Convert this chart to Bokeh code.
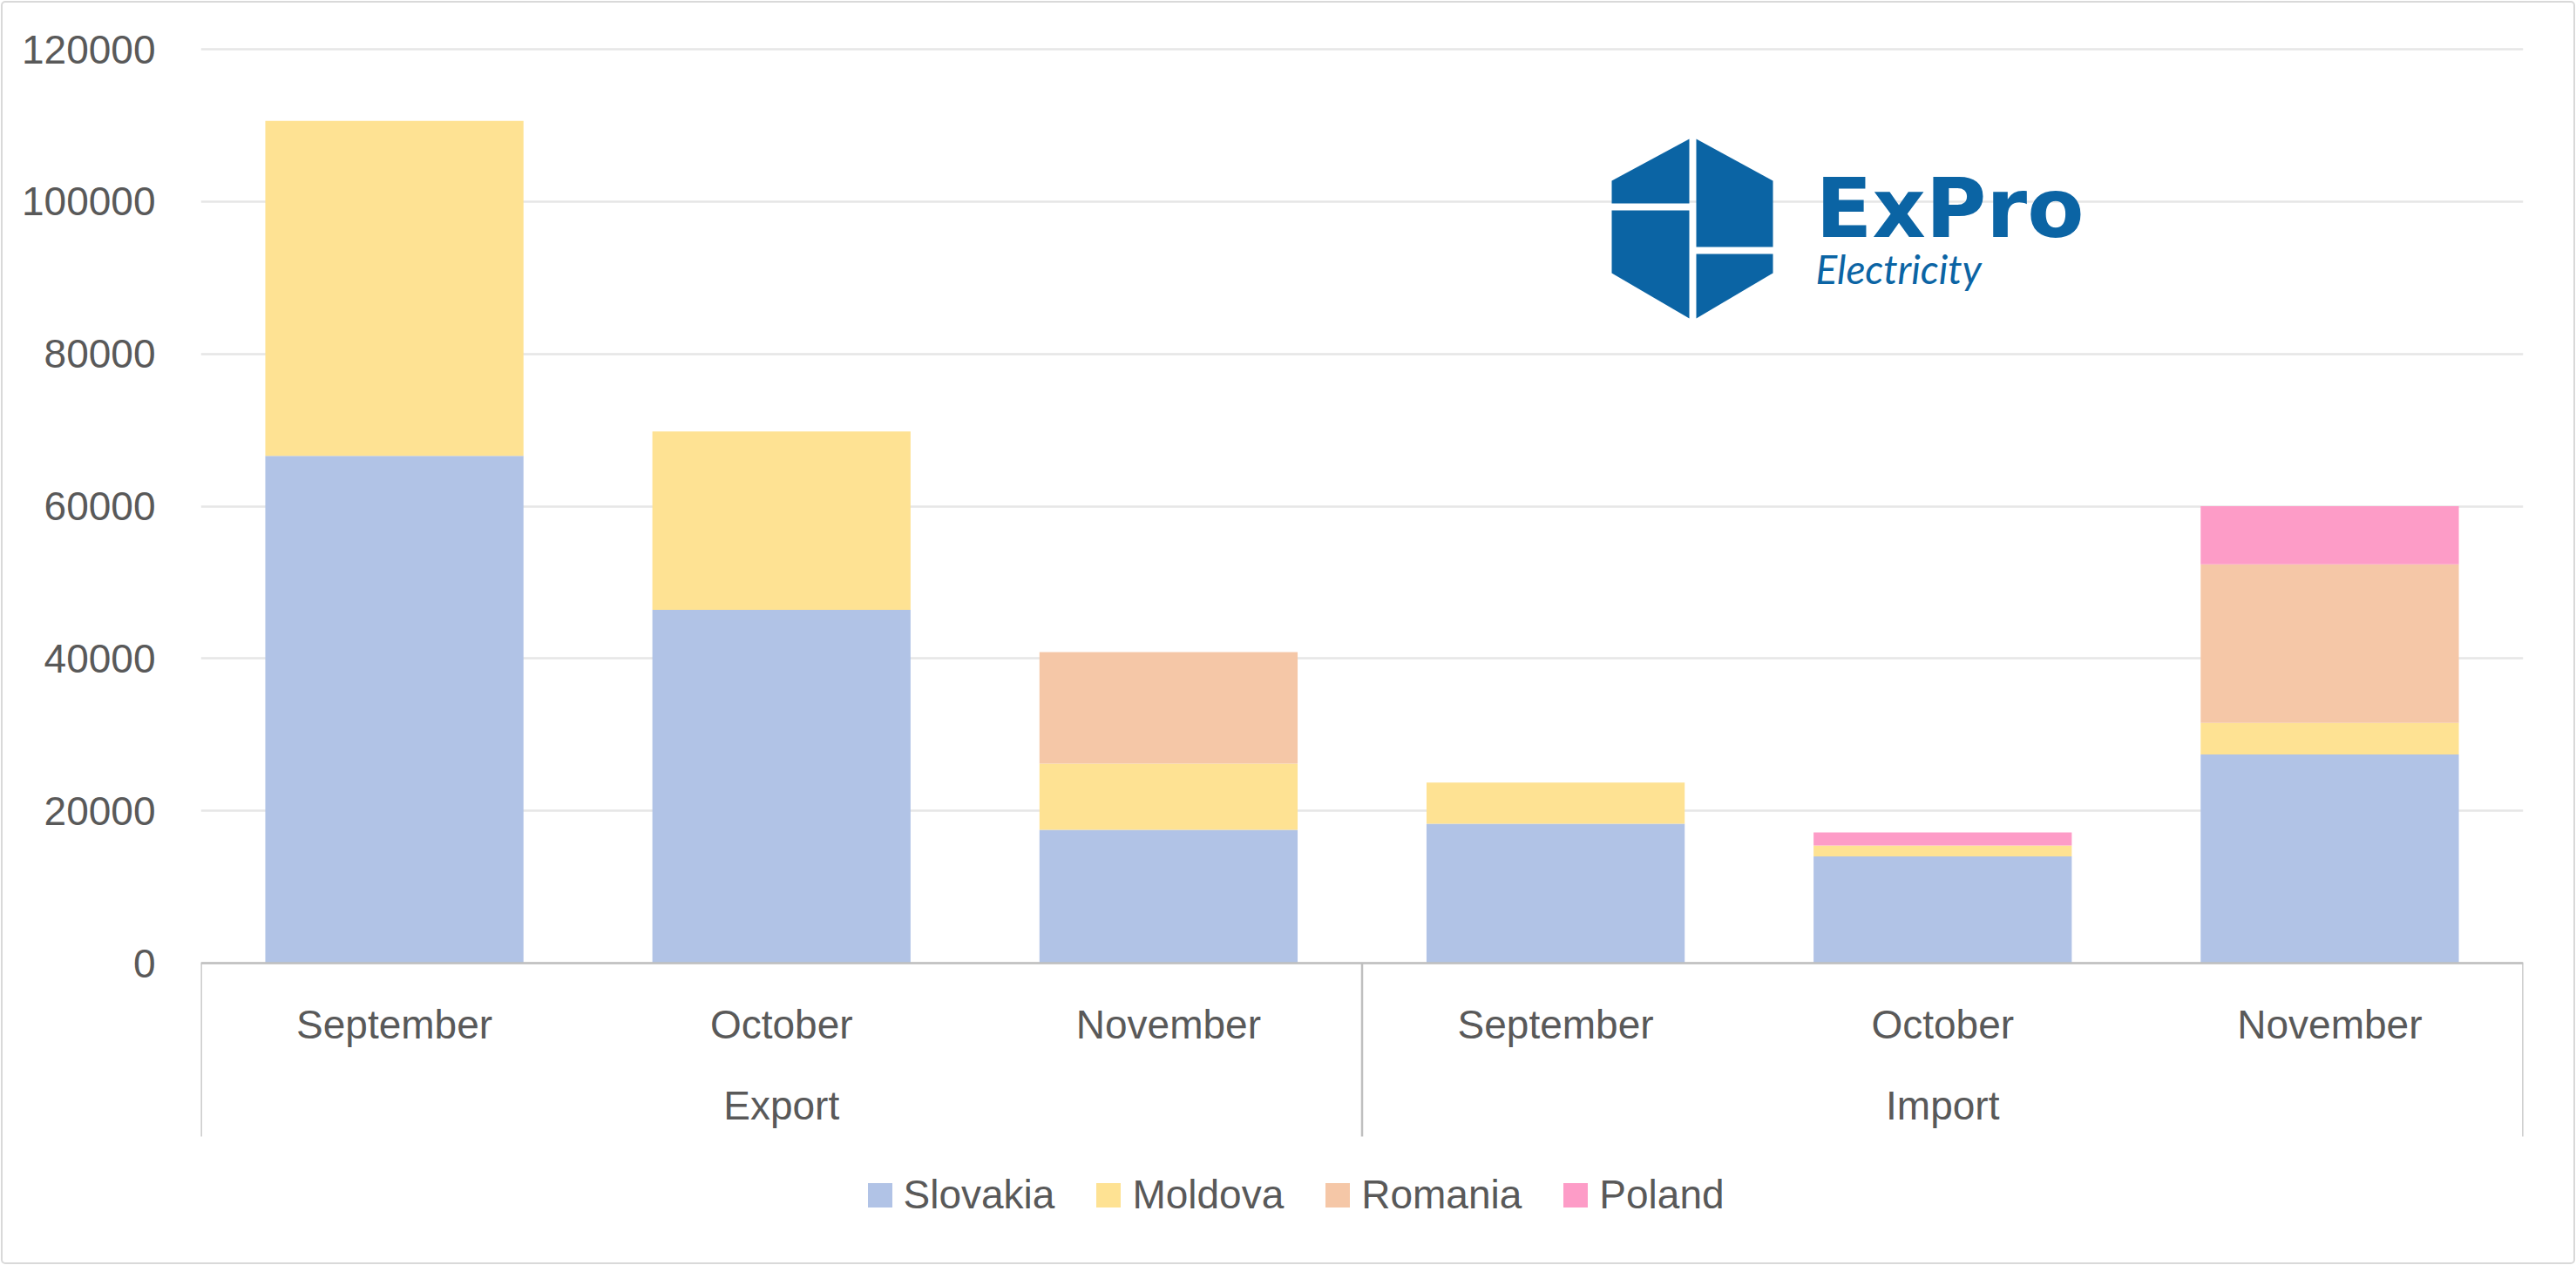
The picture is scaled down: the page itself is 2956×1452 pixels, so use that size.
from bokeh.plotting import figure
from bokeh.models import (FactorRange, Range1d, FixedTicker, Legend, LegendItem,
                          ColumnDataSource, NumeralTickFormatter)
from bokeh.core.properties import value
from bokeh.embed import file_html
from bokeh.resources import INLINE

# ---------------- data ----------------
groups = ["Export", "Import"]
months = ["September", "October", "November"]
countries = ["Slovakia", "Moldova", "Romania", "Poland"]
slovakia = [66600, 46400, 17500, 18300, 14000, 27400]
moldova = [44000, 23400, 8700, 5400, 1450, 4150]
romania = [0, 0, 14650, 0, 0, 20800]
poland = [0, 0, 0, 0, 1700, 7650]
y_ticks = [0, 20000, 40000, 60000, 80000, 100000, 120000]
colors = ["#b1c3e6", "#fee293", "#f5c7a7", "#fd9cc7"]

factors = [(g, m) for g in groups for m in months]

# ---------------- layout ----------------
W, H = 2956, 1452
FRAME_L, FRAME_R = 230, 2895          # frame edges (px)
Y0_PX, YTOP_PX = 1105, 56             # pixel rows of 0 and of the top tick
ppu = (Y0_PX - YTOP_PX) / y_ticks[-1]
y_end = y_ticks[-1] + YTOP_PX / ppu
y_start = -(H - Y0_PX) / ppu
cat_w = (FRAME_R - FRAME_L) / len(factors)
FONT = "Liberation Sans"
FS = "46px"
TXT = "#595959"

def dx(px):
    return (px - FRAME_L) / cat_w

def dy(py):
    return (Y0_PX - py) / ppu

p = figure(x_range=FactorRange(*factors, group_padding=0, factor_padding=0, range_padding=0),
           y_range=Range1d(y_start, y_end), width=W, height=H,
           output_backend="svg", toolbar_location=None,
           min_border=0, min_border_left=FRAME_L, min_border_right=W - FRAME_R)
p.outline_line_color = None
p.background_fill_color = None
p.border_fill_color = None
p.styles = {"outline": "2px solid #d9d9d9", "outline-offset": "-3px", "border-radius": "6px"}

source = ColumnDataSource(dict(x=factors, Slovakia=slovakia, Moldova=moldova,
                               Romania=romania, Poland=poland))
rs = p.vbar_stack(countries, x="x", width=0.667, fill_color=colors, line_color=None,
                  source=source)

# group separators below the axis
bounds = [i * len(months) for i in range(len(groups) + 1)]
sep_y = dy(1304)
p.segment(x0=bounds, y0=[0] * len(bounds), x1=bounds, y1=[sep_y] * len(bounds),
          line_color="#bfbfbf", line_width=2.5)

# y axis
ticker = FixedTicker(ticks=y_ticks)
p.yaxis.ticker = ticker
p.yaxis.formatter = NumeralTickFormatter(format="0")
p.yaxis.axis_line_color = None
p.yaxis.major_tick_line_color = None
p.yaxis.minor_tick_line_color = None
p.yaxis.major_label_standoff = 46
p.yaxis.major_label_text_font = FONT
p.yaxis.major_label_text_font_size = FS
p.yaxis.major_label_text_color = TXT

p.ygrid.ticker = ticker
p.ygrid.grid_line_color = "#e6e6e6"
p.ygrid.grid_line_width = 2.5
p.xgrid.visible = False

# x axis (nested categories)
xa = p.xaxis[0]
xa.fixed_location = 0
xa.axis_line_color = "#bfbfbf"
xa.axis_line_width = 2.5
xa.major_tick_line_color = None
xa.minor_tick_line_color = None
xa.separator_line_color = None
xa.major_label_standoff = 38
xa.major_label_text_font = FONT
xa.major_label_text_font_size = FS
xa.major_label_text_color = TXT
xa.group_text_font = FONT
xa.group_text_font_size = FS
xa.group_text_font_style = "normal"
xa.group_text_color = TXT

# legend
legend = Legend(items=[LegendItem(label=c, renderers=[r]) for c, r in zip(countries, rs)],
                location=(761.5, 54), orientation="horizontal",
                glyph_width=35, glyph_height=35, label_standoff=10, spacing=44,
                padding=0, margin=0, border_line_color=None, background_fill_alpha=0,
                label_text_font=FONT, label_text_font_size=FS, label_text_color=TXT)
p.add_layout(legend, "center")

# logo (decoration)
BLUE = "#0b64a4"
hex_pieces = [
    [(1849, 233), (1849, 207), (1938, 159), (1938, 233)],
    [(1849, 241), (1938, 241), (1938, 365), (1849, 313)],
    [(1946, 159), (2034, 207), (2034, 283), (1946, 283)],
    [(1946, 291), (2034, 291), (2034, 313), (1946, 365)],
]
p.patches(xs=[[dx(a) for a, b in pc] for pc in hex_pieces],
          ys=[[dy(b) for a, b in pc] for pc in hex_pieces],
          fill_color=BLUE, line_color=None)
p.text(x=[dx(2083)], y=[dy(238)], text=["ExPro"], text_font=value("DejaVu Sans"),
       text_font_style="bold", text_font_size="95px", text_color=BLUE,
       text_baseline="alphabetic")
p.text(x=[dx(2083)], y=[dy(308)], text=["Electricity"], text_font=value("Lato"),
       text_font_style="italic", text_font_size="46px", text_color=BLUE,
       text_baseline="alphabetic")

open("out.html", "w").write(file_html(p, INLINE))
